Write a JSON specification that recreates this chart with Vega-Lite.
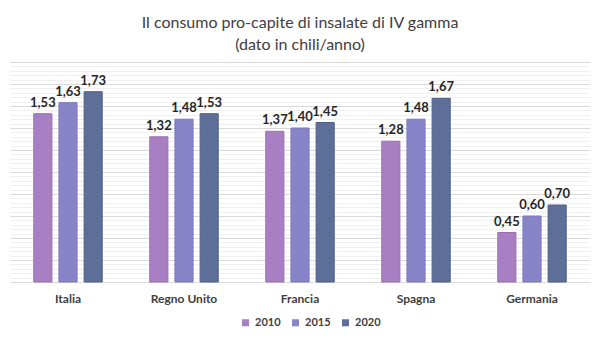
{
  "$schema": "https://vega.github.io/schema/vega-lite/v6.json",
  "width": 580,
  "height": 220,
  "autosize": {"type": "none"},
  "padding": {"left": 10, "top": 62, "right": 10, "bottom": 57},
  "background": "white",
  "config": {
    "locale": {"number": {"decimal": ",", "thousands": ".", "grouping": [3], "currency": ["€", ""]}},
    "view": {"stroke": null},
    "font": "Lato"
  },
  "title": {
    "text": ["Il consumo pro-capite di insalate di IV gamma", "(dato in chili/anno)"],
    "fontSize": 16,
    "fontWeight": "normal",
    "color": "#404040",
    "lineHeight": 22,
    "offset": 9,
    "anchor": "middle",
    "font": "Lato"
  },
  "data": {
    "values": [
      {"paese": "Italia", "anno": "2010", "valore": 1.53},
      {"paese": "Italia", "anno": "2015", "valore": 1.63},
      {"paese": "Italia", "anno": "2020", "valore": 1.73},
      {"paese": "Regno Unito", "anno": "2010", "valore": 1.32},
      {"paese": "Regno Unito", "anno": "2015", "valore": 1.48},
      {"paese": "Regno Unito", "anno": "2020", "valore": 1.53},
      {"paese": "Francia", "anno": "2010", "valore": 1.37},
      {"paese": "Francia", "anno": "2015", "valore": 1.40},
      {"paese": "Francia", "anno": "2020", "valore": 1.45},
      {"paese": "Spagna", "anno": "2010", "valore": 1.28},
      {"paese": "Spagna", "anno": "2015", "valore": 1.48},
      {"paese": "Spagna", "anno": "2020", "valore": 1.67},
      {"paese": "Germania", "anno": "2010", "valore": 0.45},
      {"paese": "Germania", "anno": "2015", "valore": 0.60},
      {"paese": "Germania", "anno": "2020", "valore": 0.70}
    ]
  },
  "encoding": {
    "x": {
      "field": "paese", "type": "nominal", "sort": null,
      "scale": {"paddingInner": 0.41, "paddingOuter": 0.205},
      "axis": {
        "title": null, "labelAngle": 0, "ticks": false,
        "domainColor": "#d9d9d9", "domainWidth": 1,
        "labelFontSize": 12, "labelFontWeight": "bold", "labelColor": "#404040",
        "labelPadding": 11, "labelFont": "Lato"
      }
    },
    "xOffset": {"field": "anno", "type": "nominal", "scale": {"paddingInner": 0.28}},
    "y": {
      "field": "valore", "type": "quantitative",
      "scale": {"domain": [0, 2], "nice": false},
      "axis": {
        "title": null, "labels": false, "ticks": false, "domain": false,
        "values": [0.04,0.08,0.12,0.16,0.2,0.24,0.28,0.32,0.36,0.4,0.44,0.48,0.52,0.56,0.6,0.64,0.68,0.72,0.76,0.8,0.84,0.88,0.92,0.96,1.0,1.04,1.08,1.12,1.16,1.2,1.24,1.28,1.32,1.36,1.4,1.44,1.48,1.52,1.56,1.6,1.64,1.68,1.72,1.76,1.8,1.84,1.88,1.92,1.96,2.0],
        "gridColor": {"condition": {"test": "abs(datum.value*5 - round(datum.value*5)) < 0.001", "value": "#d9d9d9"}, "value": "#f0f0f0"},
        "gridWidth": 1
      }
    }
  },
  "layer": [
    {
      "mark": {"type": "bar", "strokeWidth": 1},
      "encoding": {
        "color": {
          "field": "anno", "type": "nominal",
          "scale": {"domain": ["2010", "2015", "2020"], "range": ["#A97FC3", "#8884C8", "#5D6F98"]},
          "legend": {
            "title": null, "orient": "none", "legendX": 230, "legendY": 255, "direction": "horizontal",
            "symbolType": "square", "symbolSize": 49, "symbolStrokeWidth": 0,
            "labelFontSize": 11, "labelFontWeight": "bold", "labelColor": "#404040",
            "labelFont": "Lato", "columnPadding": 9, "labelOffset": 4
          }
        },
        "stroke": {
          "field": "anno", "type": "nominal",
          "scale": {"domain": ["2010", "2015", "2020"], "range": ["#9A6FB6", "#7A76BC", "#4F6088"]},
          "legend": null
        }
      }
    },
    {
      "mark": {"type": "text", "baseline": "bottom", "dy": -4, "fontSize": 13, "fontWeight": "bold", "color": "#262626", "font": "Lato"},
      "encoding": {
        "text": {"field": "valore", "type": "quantitative", "format": ".2f"}
      }
    }
  ]
}
